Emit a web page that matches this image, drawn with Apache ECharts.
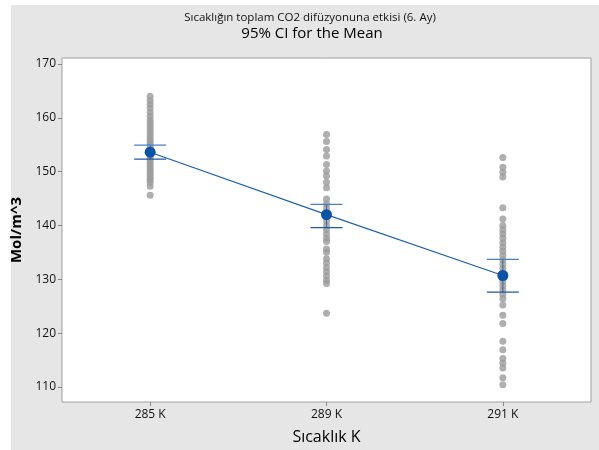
<!DOCTYPE html>
<html>
<head>
<meta charset="utf-8">
<script src="https://cdn.jsdelivr.net/npm/echarts@6/dist/echarts.min.js"></script>
<style>html,body{margin:0;padding:0;background:#fff}#c{width:599px;height:450px}</style>
</head>
<body>
<div id="c"></div>
<script>
var categories = ['285 K', '289 K', '291 K'];
var yTicks = [110, 120, 130, 140, 150, 160, 170];
var obs285 = [164.0, 163.2, 162.5, 161.8, 161.0, 160.3, 159.6, 159.0, 158.4, 157.8, 157.2, 156.6, 156.0, 155.5, 155.0, 154.5, 154.0, 153.5, 153.0, 152.5, 152.0, 151.5, 151.0, 150.5, 150.0, 149.5, 149.0, 148.5, 148.0, 147.3, 145.6];
var obs289 = [156.9, 155.6, 154.1, 152.9, 151.3, 150.1, 149.2, 148.0, 147.0, 144.9, 144.0, 143.2, 142.4, 141.6, 140.8, 140.0, 139.2, 138.4, 137.6, 137.0, 135.6, 135.0, 133.8, 133.0, 132.2, 131.4, 130.6, 129.8, 129.2, 123.7];
var obs291 = [152.6, 150.8, 149.9, 149.0, 143.3, 141.2, 140.0, 139.2, 138.4, 137.6, 136.8, 136.0, 135.2, 134.4, 133.6, 132.8, 132.0, 131.2, 130.4, 129.6, 128.8, 128.0, 127.2, 126.4, 125.2, 123.3, 121.8, 118.5, 116.9, 115.3, 114.4, 113.5, 111.7, 110.4];
var means = [153.6, 142.0, 130.7];
var ciLow = [152.3, 139.6, 127.6];
var ciHigh = [154.9, 143.9, 133.7];

var groups = [obs285, obs289, obs291];
var obsData = [];
groups.forEach(function (g, i) { g.forEach(function (v) { obsData.push([i, v]); }); });
var ciData = means.map(function (m, i) { return [i, ciLow[i], ciHigh[i]]; });
var meanData = means.map(function (m, i) { return [i, m]; });

var chart = echarts.init(document.getElementById('c'), null, {renderer: 'canvas'});
var FONT = 'Open Sans';
chart.setOption({
  backgroundColor: '#ffffff',
  animation: false,
  graphic: [{
    type: 'rect', z: -10, silent: true,
    shape: {x: 11, y: 5, width: 588, height: 445},
    style: {fill: '#e6e6e6'}
  }],
  title: [{
    text: 'Sıcaklığın toplam CO2 difüzyonuna etkisi (6. Ay)',
    left: 305, top: 7, textAlign: 'center',
    textStyle: {fontFamily: FONT, fontSize: 11.5, fontWeight: 'normal', color: '#111'}
  }, {
    text: '95% CI for the Mean',
    left: 307, top: 21, textAlign: 'center',
    textStyle: {fontFamily: FONT, fontSize: 15, fontWeight: 'normal', color: '#000'}
  }],
  grid: {
    left: 62, top: 58, right: 8, bottom: 46,
    show: true, backgroundColor: '#ffffff', borderColor: '#a0a0a0', borderWidth: 1
  },
  xAxis: {
    type: 'category', data: categories, boundaryGap: true,
    name: 'Sıcaklık K', nameLocation: 'middle', nameGap: 27,
    nameTextStyle: {fontFamily: FONT, fontSize: 16, color: '#000'},
    axisLine: {show: false},
    axisTick: {show: true, alignWithLabel: true, length: 4, lineStyle: {color: '#888'}},
    axisLabel: {fontFamily: FONT, fontSize: 12, color: '#111', margin: 7},
    splitLine: {show: false}
  },
  yAxis: {
    type: 'value', min: 107.2, max: 171.1,
    name: 'Mol/m^3', nameLocation: 'middle', nameGap: 38, nameRotate: 90,
    nameTextStyle: {fontFamily: FONT, fontSize: 15, fontWeight: 'bold', color: '#000'},
    axisLine: {show: false},
    axisTick: {show: true, length: 4, lineStyle: {color: '#888'}, customValues: yTicks},
    axisLabel: {fontFamily: FONT, fontSize: 12, color: '#111', margin: 6, customValues: yTicks},
    splitLine: {show: false}
  },
  series: [{
    type: 'scatter', data: obsData, symbolSize: 7,
    itemStyle: {color: '#9b9b9b'}, z: 2
  }, {
    type: 'custom', data: ciData, z: 3,
    renderItem: function (params, api) {
      var x = api.value(0);
      var lo = api.coord([x, api.value(1)]);
      var hi = api.coord([x, api.value(2)]);
      var hw = 16;
      return {
        type: 'group',
        children: [
          {type: 'line', shape: {x1: hi[0], y1: hi[1], x2: lo[0], y2: lo[1]}, style: {stroke: '#2f6ab2', lineWidth: 1}},
          {type: 'line', shape: {x1: hi[0] - hw, y1: hi[1], x2: hi[0] + hw, y2: hi[1]}, style: {stroke: '#4b80c0', lineWidth: 1.2}},
          {type: 'line', shape: {x1: lo[0] - hw, y1: lo[1], x2: lo[0] + hw, y2: lo[1]}, style: {stroke: '#1f5aa6', lineWidth: 1.2}}
        ]
      };
    }
  }, {
    type: 'line', data: meanData, z: 4,
    symbol: 'circle', symbolSize: 11,
    lineStyle: {color: '#1f5fb0', width: 1.2},
    itemStyle: {color: '#0b53a6'}
  }]
});
</script>
</body>
</html>
